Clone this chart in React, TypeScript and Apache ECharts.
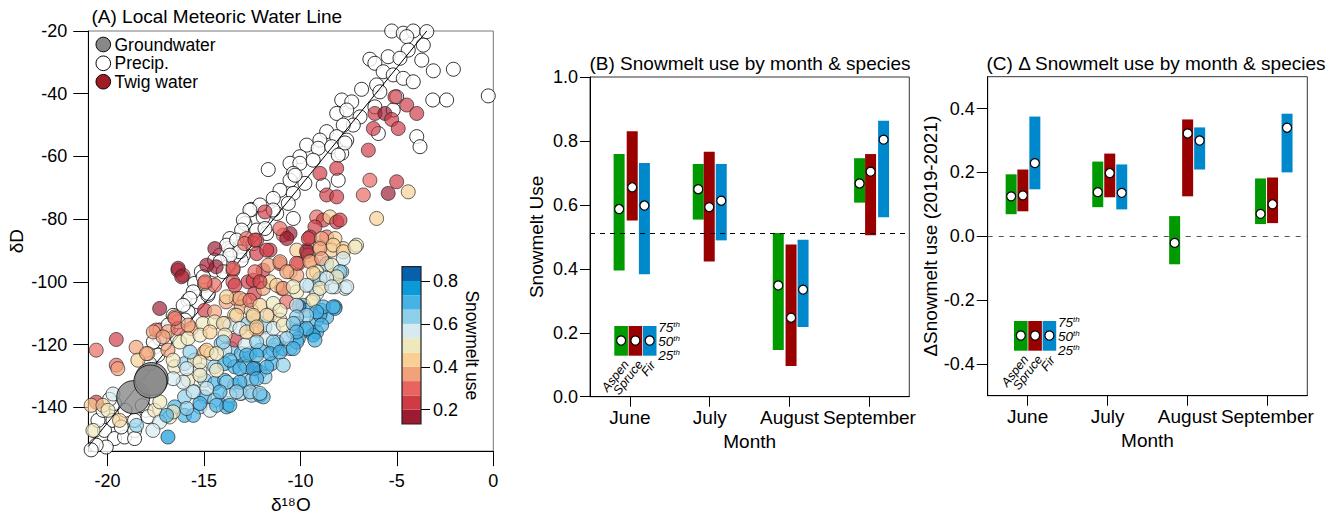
import React, { useEffect, useRef } from 'react';
import * as echarts from 'echarts';

const FONT = '"Liberation Sans", Arial, Helvetica, sans-serif';

// ---------------- Panel A data ----------------
const groundwater = [[-18.67, -136.8], [-17.72, -131.0], [-17.78, -131.8]];

const precip = [
  [-5.27, -20.0], [-4.67, -20.7], [-4.15, -20.0], [-3.45, -20.2], [-4.49, -21.8], [-3.63, -24.5], [-4.41, -26.1],
  [-5.45, -28.2], [-6.40, -29.0], [-6.14, -30.3], [-4.84, -28.7], [-3.71, -29.3], [-3.11, -32.7], [-2.07, -32.2],
  [-5.71, -33.0], [-5.19, -34.0], [-4.67, -35.1], [-4.15, -36.2], [-6.83, -38.6], [-6.05, -37.2], [-5.88, -39.4],
  [-5.01, -41.0], [-3.14, -42.0], [-2.42, -42.0], [-0.26, -40.7], [-7.86, -42.0], [-7.34, -42.6], [-8.12, -46.3],
  [-7.60, -45.2], [-6.91, -47.4], [-6.14, -44.2], [-5.19, -45.2], [-7.26, -50.0], [-7.78, -50.0], [-8.64, -52.1],
  [-8.99, -54.8], [-8.12, -53.7], [-7.60, -54.8], [-9.68, -56.4], [-9.08, -57.4], [-8.38, -56.9], [-7.86, -59.0],
  [-10.03, -60.1], [-10.54, -62.2], [-10.03, -62.2], [-9.34, -61.2], [-11.67, -64.2], [-10.37, -65.4], [-10.54, -67.6],
  [-9.77, -68.6], [-8.82, -69.2], [-8.04, -67.6], [-11.06, -70.8], [-11.41, -73.4], [-10.37, -71.8], [-10.63, -75.0],
  [-12.53, -76.9], [-11.93, -79.3], [-11.23, -78.2], [-10.37, -79.8], [-12.88, -81.4], [-12.27, -83.5], [-11.75, -84.6],
  [-13.66, -86.2], [-13.14, -88.8], [-12.45, -87.8], [-3.97, -53.7], [-3.80, -56.9], [-5.96, -52.7],
  [-7.69, -55.7], [-8.04, -59.6], [-10.28, -66.0], [-11.41, -77.1], [-12.10, -75.5], [-12.62, -77.1], [-12.96, -80.3],
  [-13.05, -83.5], [-11.84, -83.0], [-13.74, -89.4], [-13.31, -89.9], [-14.17, -91.5], [-12.96, -91.5],
  [-15.14, -96.8], [-14.45, -93.1], [-13.59, -89.9], [-15.49, -100.5], [-15.83, -105.9], [-15.32, -106.4],
  [-14.80, -104.3], [-16.35, -111.2], [-15.83, -109.6], [-16.70, -114.4], [-17.04, -117.0], [-13.76, -95.2],
  [-13.07, -93.1], [-14.95, -101.1], [-14.43, -96.3],
  [-17.56, -120.8], [-17.04, -119.7], [-17.39, -123.4], [-17.82, -126.1], [-15.99, -112.2], [-17.29, -115.4],
  [-20.67, -147.4], [-20.16, -147.4], [-20.50, -144.2], [-19.72, -144.2], [-20.24, -141.0], [-19.64, -150.0],
  [-19.12, -149.5], [-18.60, -147.4], [-19.29, -146.3], [-20.07, -152.7], [-20.59, -152.1], [-20.85, -153.6],
  [-18.60, -144.2], [-18.00, -141.0], [-19.64, -138.8], [-19.10, -141.0], [-18.60, -150.0], [-18.20, -139.5],
  [-17.90, -143.0], [-19.90, -137.5],
  [-15.04, -98.4], [-15.56, -103.2], [-15.73, -105.3], [-16.08, -107.5], [-16.60, -110.7], [-16.34, -112.8],
  [-16.86, -113.8], [-17.29, -118.1], [-17.63, -119.2], [-13.83, -88.3], [-13.31, -86.7], [-13.14, -90.4],
  [-13.66, -91.5], [-14.17, -93.6], [-14.00, -96.8], [-14.78, -103.7],
];

// [d18O, dD, snowmelt use]
const twig = [
  [-5.10, -41.0, 0.2], [-4.49, -43.6, 0.2], [-3.97, -46.3, 0.2], [-6.14, -46.3, 0.2], [-5.62, -46.3, 0.17],
  [-5.27, -48.2, 0.2], [-4.93, -51.1, 0.2], [-6.22, -51.1, 0.2], [-6.48, -58.0, 0.2], [-8.12, -63.8, 0.2],
  [-8.99, -65.4, 0.2], [-6.40, -67.6, 0.27], [-5.01, -68.1, 0.2], [-5.45, -71.8, 0.17], [-6.74, -72.3, 0.27],
  [-8.64, -72.3, 0.25], [-8.12, -72.9, 0.2], [-4.41, -71.3, 0.42], [-6.05, -79.8, 0.42], [-11.84, -77.7, 0.2],
  [-14.44, -89.4, 0.17],
  [-9.16, -79.3, 0.3], [-8.81, -80.3, 0.2], [-8.47, -79.3, 0.4], [-8.12, -80.9, 0.25], [-7.95, -80.3, 0.2],
  [-9.25, -82.5, 0.25], [-9.51, -85.7, 0.22], [-8.64, -85.7, 0.27], [-8.21, -86.2, 0.4], [-8.99, -88.9, 0.4],
  [-9.68, -89.9, 0.22], [-8.38, -89.9, 0.42], [-7.78, -89.4, 0.44], [-7.09, -88.3, 0.5], [-10.89, -85.1, 0.27],
  [-10.54, -84.6, 0.17], [-11.06, -83.0, 0.27], [-12.79, -86.2, 0.3], [-12.27, -86.7, 0.3], [-11.58, -89.9, 0.25],
  [-10.19, -89.9, 0.4], [-9.61, -91.5, 0.37],
  [-16.35, -96.3, 0.2], [-16.09, -97.9, 0.28], [-14.37, -95.2, 0.17], [-13.50, -96.3, 0.25], [-12.89, -87.8, 0.27],
  [-14.97, -100.5, 0.37], [-14.45, -101.1, 0.3], [-13.50, -100.0, 0.3], [-12.72, -100.0, 0.25], [-17.30, -108.5, 0.17],
  [-16.52, -111.2, 0.37], [-14.97, -109.1, 0.25], [-14.45, -109.6, 0.37], [-13.85, -106.4, 0.37], [-13.33, -105.3, 0.37],
  [-12.89, -105.9, 0.42], [-12.38, -103.7, 0.25], [-17.48, -115.4, 0.3], [-16.87, -115.9, 0.37], [-16.35, -114.9, 0.3],
  [-15.66, -114.9, 0.37], [-15.06, -113.3, 0.5], [-14.45, -112.8, 0.5], [-13.93, -113.3, 0.37], [-13.41, -110.6, 0.48],
  [-13.07, -108.0, 0.37], [-12.55, -109.1, 0.48], [-19.55, -118.4, 0.2], [-12.30, -112.2, 0.6], [-12.72, -113.3, 0.65],
  [-12.27, -91.0, 0.25], [-8.64, -94.2, 0.6], [-7.86, -96.8, 0.6], [-11.06, -94.2, 0.22], [-10.11, -94.2, 0.25],
  [-9.42, -93.6, 0.4], [-11.93, -96.3, 0.25], [-10.54, -96.8, 0.42], [-10.19, -97.9, 0.37], [-9.16, -96.8, 0.48],
  [-8.29, -97.9, 0.5], [-7.69, -102.1, 0.56], [-8.21, -101.6, 0.56], [-8.90, -101.6, 0.5], [-9.51, -101.1, 0.6],
  [-10.97, -102.1, 0.25], [-11.93, -102.1, 0.35], [-12.45, -99.5, 0.25], [-11.58, -100.0, 0.4], [-10.19, -103.2, 0.48],
  [-9.16, -103.7, 0.56], [-9.42, -106.4, 0.5], [-10.72, -106.4, 0.33], [-9.86, -107.5, 0.62], [-8.21, -108.0, 0.7],
  [-8.90, -109.1, 0.7], [-8.64, -111.3, 0.68], [-9.16, -112.2, 0.7], [-9.68, -109.1, 0.65], [-11.58, -110.6, 0.38],
  [-11.06, -112.2, 0.5], [-10.19, -113.3, 0.7], [-10.37, -116.0, 0.55], [-9.77, -115.4, 0.7], [-9.16, -116.0, 0.72],
  [-10.11, -118.1, 0.7], [-9.34, -117.0, 0.75], [-11.84, -114.4, 0.6], [-12.45, -111.2, 0.5], [-11.23, -119.2, 0.62],
  [-11.75, -118.1, 0.56], [-12.27, -115.4, 0.37],
  [-20.59, -121.8, 0.3], [-18.52, -120.9, 0.37], [-17.91, -122.9, 0.4], [-18.43, -125.0, 0.45], [-19.55, -126.6, 0.3],
  [-19.47, -127.7, 0.37], [-16.87, -121.8, 0.37], [-16.26, -119.2, 0.5], [-15.83, -118.1, 0.5], [-16.52, -127.1, 0.52],
  [-16.01, -126.1, 0.6], [-15.49, -125.0, 0.52], [-14.97, -122.4, 0.37], [-14.63, -122.9, 0.5], [-14.11, -119.7, 0.6],
  [-13.59, -121.3, 0.6], [-13.41, -118.6, 0.2], [-13.07, -122.9, 0.72], [-14.45, -127.1, 0.6], [-13.93, -126.1, 0.7],
  [-13.41, -127.1, 0.72], [-12.89, -126.1, 0.7], [-14.97, -131.4, 0.6], [-14.45, -132.4, 0.7], [-13.93, -131.4, 0.72],
  [-13.41, -133.0, 0.7], [-12.89, -131.4, 0.62], [-15.83, -131.4, 0.52], [-15.49, -135.1, 0.6], [-16.01, -136.7, 0.62],
  [-14.97, -136.7, 0.7], [-14.45, -137.8, 0.62], [-13.76, -138.8, 0.72], [-13.07, -135.6, 0.6], [-16.52, -139.9, 0.7],
  [-16.01, -142.6, 0.7], [-17.56, -141.0, 0.5], [-16.78, -143.1, 0.48], [-17.30, -144.7, 0.55], [-17.65, -147.4, 0.58],
  [-16.87, -149.5, 0.75], [-19.72, -135.8, 0.58], [-20.59, -138.4, 0.25], [-20.85, -139.4, 0.4], [-20.24, -139.4, 0.42],
  [-19.98, -141.0, 0.5], [-19.38, -144.2, 0.4], [-20.76, -147.4, 0.48],
  [-12.62, -122.9, 0.7], [-12.10, -121.8, 0.72], [-11.41, -121.8, 0.62], [-10.89, -121.3, 0.7], [-10.54, -121.3, 0.65],
  [-10.19, -119.2, 0.7], [-9.25, -118.6, 0.72], [-12.79, -127.1, 0.65], [-12.10, -128.8, 0.7], [-11.49, -126.1, 0.72],
  [-11.84, -130.3, 0.65], [-12.53, -131.4, 0.62], [-13.14, -135.6, 0.58], [-12.53, -136.2, 0.6], [-12.10, -136.2, 0.72],
  [-8.99, -99.0, 0.6], [-8.04, -97.3, 0.55], [-7.60, -101.6, 0.56], [-8.21, -108.5, 0.68], [-8.99, -110.6, 0.72],
  [-11.32, -120.2, 0.7], [-11.93, -136.7, 0.7], [-13.83, -139.9, 0.72], [-15.21, -139.9, 0.62], [-15.55, -142.6, 0.72],
  [-18.50, -145.8, 0.6],
  [-13.66, -113.8, 0.56], [-12.88, -120.2, 0.56], [-13.92, -121.8, 0.56], [-15.21, -128.2, 0.56], [-13.66, -136.2, 0.56],
  [-14.69, -141.0, 0.55], [-10.07, -107.8, 0.82], [-12.36, -127.6, 0.82],
  [-12.36, -86.7, 0.25], [-11.75, -89.9, 0.25], [-10.71, -86.2, 0.17], [-9.59, -86.2, 0.22], [-8.90, -86.2, 0.37],
  [-9.68, -90.4, 0.17], [-8.99, -89.4, 0.37], [-8.30, -88.3, 0.42], [-7.78, -90.4, 0.42], [-7.17, -88.9, 0.5],
  [-7.78, -92.6, 0.56], [-16.34, -95.7, 0.17], [-16.16, -98.4, 0.17], [-14.86, -94.7, 0.17], [-13.49, -95.7, 0.3],
  [-12.36, -96.8, 0.3], [-11.67, -94.7, 0.37], [-11.06, -93.6, 0.37], [-10.20, -94.1, 0.27], [-9.51, -93.6, 0.37],
  [-8.90, -92.6, 0.37], [-8.38, -94.7, 0.5], [-7.95, -96.8, 0.6], [-8.12, -98.4, 0.5], [-10.71, -96.8, 0.37],
  [-9.34, -97.3, 0.42], [-8.64, -98.9, 0.56], [-14.95, -100.0, 0.3], [-13.40, -101.1, 0.25], [-12.10, -100.0, 0.25],
  [-11.23, -101.1, 0.42], [-10.89, -102.1, 0.37], [-10.37, -101.6, 0.5], [-9.68, -101.1, 0.56], [-8.99, -102.1, 0.5],
  [-8.38, -101.6, 0.56], [-13.83, -104.8, 0.42], [-13.14, -105.3, 0.37], [-12.62, -105.9, 0.33], [-12.10, -107.5, 0.42],
  [-11.41, -106.9, 0.5], [-10.20, -107.5, 0.56], [-9.34, -105.9, 0.5], [-8.82, -108.0, 0.7], [-8.30, -108.0, 0.72],
  [-9.16, -109.6, 0.7], [-9.68, -110.7, 0.62], [-10.20, -111.2, 0.6], [-11.06, -109.1, 0.5], [-11.75, -110.7, 0.5],
  [-12.45, -110.7, 0.42], [-13.31, -110.7, 0.42], [-14.00, -113.3, 0.5], [-17.63, -116.0, 0.37], [-17.12, -117.6, 0.37],
  [-16.51, -111.7, 0.3], [-15.82, -113.8, 0.37], [-15.21, -117.0, 0.5], [-14.69, -116.0, 0.42], [-13.91, -117.0, 0.5],
  [-13.14, -114.9, 0.56], [-12.79, -116.0, 0.42], [-12.27, -114.4, 0.42], [-11.41, -114.9, 0.56], [-10.89, -113.8, 0.5],
  [-10.37, -113.3, 0.62], [-9.68, -114.9, 0.7], [-8.90, -113.8, 0.72], [-10.20, -116.0, 0.7], [-10.71, -118.1, 0.62],
  [-11.41, -119.2, 0.6], [-12.27, -119.2, 0.62], [-14.00, -119.2, 0.62], [-17.98, -122.9, 0.37], [-16.60, -125.0, 0.5],
  [-15.73, -122.4, 0.6], [-14.86, -121.8, 0.42], [-14.35, -122.9, 0.5], [-15.21, -125.6, 0.5], [-13.66, -125.0, 0.7],
  [-12.79, -123.4, 0.72], [-12.27, -123.4, 0.7], [-11.58, -122.9, 0.7], [-11.06, -122.4, 0.72], [-10.37, -121.3, 0.72],
  [-13.14, -127.7, 0.7], [-12.45, -127.7, 0.72], [-11.75, -127.2, 0.7], [-10.89, -126.6, 0.62], [-14.35, -128.2, 0.5],
  [-15.21, -129.8, 0.5], [-15.90, -127.7, 0.58], [-13.83, -132.0, 0.62], [-13.14, -132.0, 0.72], [-12.27, -130.9, 0.7],
  [-12.62, -135.1, 0.62], [-12.10, -135.6, 0.62], [-13.31, -135.1, 0.6], [-14.17, -135.1, 0.7], [-14.86, -134.0, 0.58],
  [-15.56, -135.1, 0.55], [-16.08, -132.0, 0.58], [-16.60, -130.9, 0.58], [-14.35, -139.4, 0.72], [-13.66, -139.4, 0.72],
  [-15.21, -138.8, 0.7], [-15.90, -140.4, 0.6], [-16.60, -141.5, 0.52], [-17.29, -138.3, 0.52], [-16.94, -142.6, 0.7],
];

const lmwl = [[-21.0, -152.5], [-3.45, -20.0]];

const xTicksA = [-20, -15, -10, -5, 0];
const yTicksA = [-140, -120, -100, -80, -60, -40, -20];

// colour scale (edges in snowmelt-use units)
const bandEdges = [2, 3, 4, 5, 6, 7, 8, 9, 10, 11, 12, 13].map((k) => k / 15);
const bandColors = ['#9b1b30', '#cf3a45', '#e8655f', '#f2a27b', '#f8cf94', '#f0e8bd', '#d6eaf0', '#8ecfea', '#45b3e6', '#0a9ad8', '#0660ab'];
const colorbarTicks = [0.2, 0.4, 0.6, 0.8];

// ---------------- Panels B & C data ----------------
const months = ['June', 'July', 'August', 'September'];
const speciesNames = ['Aspen', 'Spruce', 'Fir'];
const speciesColors = ['#009900', '#990000', '#0088cc'];

// [25th, 50th, 75th] per month
const useAspen = [[0.395, 0.587, 0.759], [0.554, 0.649, 0.728], [0.146, 0.348, 0.512], [0.607, 0.667, 0.746]];
const useSpruce = [[0.551, 0.655, 0.830], [0.423, 0.593, 0.766], [0.096, 0.247, 0.476], [0.505, 0.704, 0.759]];
const useFir = [[0.383, 0.598, 0.731], [0.489, 0.613, 0.728], [0.218, 0.335, 0.491], [0.561, 0.804, 0.863]];
const useRefLine = 0.508;

const dAspen = [[0.069, 0.125, 0.194], [0.091, 0.138, 0.234], [-0.088, -0.021, 0.063], [0.038, 0.070, 0.181]];
const dSpruce = [[0.078, 0.128, 0.209], [0.122, 0.198, 0.259], [0.125, 0.322, 0.366], [0.041, 0.100, 0.184]];
const dFir = [[0.147, 0.229, 0.375], [0.084, 0.136, 0.225], [0.209, 0.300, 0.341], [0.200, 0.340, 0.384]];
const cTicks = [-0.4, -0.2, 0, 0.2, 0.4];

// pixel offsets of each species' bar from the month tick (styling)
const offsetsB = [[-10.8, 2.3, 14.5], [-11.5, -0.5, 11.5], [-11.3, 1.5, 13.5], [-9.8, 1.2, 14.2]];
const offsetsC = [[-16.5, -4.8, 7.2], [-9.8, 2.2, 14.2], [-12.8, 0.2, 12.2], [-6.8, 5.2, 19.7]];
const BAR_W = 11;

function boxRender(offsets: number[][], sp: number, color: string) {
  return (params: any, api: any) => {
    const m = api.value(0);
    const lo = api.coord([m, api.value(1)]);
    const md = api.coord([m, api.value(2)]);
    const hi = api.coord([m, api.value(3)]);
    const x = md[0] + offsets[m][sp];
    return {
      type: 'group',
      children: [
        { type: 'rect', shape: { x: x - BAR_W / 2, y: hi[1], width: BAR_W, height: lo[1] - hi[1] }, style: { fill: color } },
        { type: 'circle', z2: 5, shape: { cx: x, cy: md[1], r: 4.5 }, style: { fill: '#fff', stroke: '#000', lineWidth: 1.2 } },
      ],
    };
  };
}

function legendGlyph(x0: number, y0: number) {
  const els: any[] = [];
  speciesColors.forEach((c, i) => {
    els.push({ type: 'rect', shape: { x: x0 + i * 14.3, y: y0, width: 13.6, height: 29.7 }, style: { fill: c } });
    els.push({ type: 'circle', z: 10, shape: { cx: x0 + i * 14.3 + 6.8, cy: y0 + 14.5, r: 4.5 }, style: { fill: '#fff', stroke: '#000', lineWidth: 1.2 } });
  });
  const pct = ['75', '50', '25'];
  pct.forEach((p, k) => {
    els.push({
      type: 'text', x: x0 + 44, y: y0 + 1 + k * 14.2,
      style: {
        text: `{a|${p}}{b|th}`, verticalAlign: 'middle', align: 'left',
        rich: {
          a: { fontSize: 13.5, fontStyle: 'italic', fontFamily: FONT, fill: '#000' },
          b: { fontSize: 8, fontStyle: 'italic', fontFamily: FONT, fill: '#000', verticalAlign: 'top', padding: [0, 0, 5, 0] },
        },
      },
    });
  });
  const ends = [[12, 36], [26, 36], [38.5, 37]];
  speciesNames.forEach((n, i) => {
    els.push({
      type: 'text', x: x0 + ends[i][0], y: y0 + ends[i][1], rotation: (52 * Math.PI) / 180,
      style: { text: n, align: 'right', verticalAlign: 'middle', fontSize: 12.5, fontStyle: 'italic', fontFamily: FONT, fill: '#000' },
    });
  });
  return els;
}

export default function App() {
  const ref = useRef<HTMLDivElement>(null);
  useEffect(() => {
    if (!ref.current) return;
    const chart = echarts.init(ref.current, undefined, { renderer: 'svg' });

    const txt = { fontFamily: FONT, color: '#000' };
    const blackLine = { lineStyle: { color: '#000', width: 1 } };

    const catAxis = (gi: number) => ({
      gridIndex: gi, type: 'category', data: months, boundaryGap: true,
      axisLine: { show: true, onZero: false, ...blackLine },
      axisTick: { show: true, alignWithLabel: true, length: 10, inside: false, interval: 0, ...blackLine },
      axisLabel: { ...txt, fontSize: 19, margin: 11, interval: 0 },
      name: 'Month', nameLocation: 'middle', nameGap: 34, nameTextStyle: { ...txt, fontSize: 19 },
      splitLine: { show: false },
    });

    const mkBox = (arr: number[][], sp: number, offsets: number[][], xi: number, yi: number, markLine?: any) => ({
      type: 'custom', xAxisIndex: xi, yAxisIndex: yi, clip: false,
      renderItem: boxRender(offsets, sp, speciesColors[sp]),
      encode: { x: 0, y: [1, 2, 3] },
      data: arr.map((q, m) => [m, q[0], q[1], q[2]]),
      ...(markLine ? { markLine } : {}),
      z: 3,
    });

    const option: any = {
      animation: false,
      textStyle: { fontFamily: FONT },
      grid: [
        { left: 88.3, top: 31, width: 405, height: 421, show: true, borderColor: '#777', borderWidth: 1, backgroundColor: 'transparent' },
        { left: 590, top: 77, width: 319.3, height: 319.7, show: true, borderColor: '#333', borderWidth: 1 },
        { left: 987.7, top: 76.7, width: 319.6, height: 319, show: true, borderColor: '#333', borderWidth: 1 },
        { left: 402, top: 266.7, width: 19, height: 157.3 },
      ],
      xAxis: [
        {
          gridIndex: 0, type: 'value', min: -21, max: 0,
          axisLine: { show: true, onZero: false, ...blackLine },
          axisTick: { show: true, customValues: xTicksA, length: 15, ...blackLine },
          axisLabel: { ...txt, fontSize: 18, customValues: xTicksA, margin: 21 },
          splitLine: { show: false },
          name: 'δ¹⁸O', nameLocation: 'middle', nameGap: 43, nameTextStyle: { ...txt, fontSize: 19 },
        },
        catAxis(1),
        catAxis(2),
        { gridIndex: 3, type: 'category', data: [''], show: false },
      ],
      yAxis: [
        {
          gridIndex: 0, type: 'value', min: -154, max: -20,
          axisLine: { show: true, onZero: false, ...blackLine },
          axisTick: { show: true, customValues: yTicksA, length: 15, ...blackLine },
          axisLabel: { ...txt, fontSize: 18, customValues: yTicksA, margin: 21 },
          splitLine: { show: false },
          name: 'δD', nameLocation: 'middle', nameGap: 62, nameTextStyle: { ...txt, fontSize: 19 },
        },
        {
          gridIndex: 1, type: 'value', min: 0, max: 1, interval: 0.2,
          axisLine: { show: true, ...blackLine },
          axisTick: { show: true, length: 10, ...blackLine },
          axisLabel: { ...txt, fontSize: 18, margin: 12, formatter: (v: number) => v.toFixed(1) },
          splitLine: { show: false },
          name: 'Snowmelt Use', nameLocation: 'middle', nameGap: 44, nameTextStyle: { ...txt, fontSize: 19 },
        },
        {
          gridIndex: 2, type: 'value', min: -0.5, max: 0.5,
          axisLine: { show: true, ...blackLine },
          axisTick: { show: true, length: 11, customValues: cTicks, ...blackLine },
          axisLabel: { ...txt, fontSize: 18, margin: 13, customValues: cTicks, formatter: (v: number) => v.toFixed(1) },
          splitLine: { show: false },
          name: 'ΔSnowmelt use (2019-2021)', nameLocation: 'middle', nameGap: 33, nameTextStyle: { ...txt, fontSize: 19 },
        },
        {
          gridIndex: 3, type: 'value', position: 'right', min: bandEdges[0], max: bandEdges[bandEdges.length - 1],
          axisLine: { show: false },
          axisTick: { show: true, length: 9, customValues: colorbarTicks, ...blackLine },
          axisLabel: { ...txt, fontSize: 18, margin: 12, customValues: colorbarTicks, formatter: (v: number) => v.toFixed(1) },
          splitLine: { show: false },
          name: 'Snowmelt use', nameLocation: 'middle', nameRotate: -90, nameGap: 42, nameTextStyle: { ...txt, fontSize: 17.5 },
        },
      ],
      visualMap: {
        type: 'piecewise', show: false, seriesIndex: 2, dimension: 2,
        pieces: bandColors.map((c, i) => ({ gte: bandEdges[i], lt: bandEdges[i + 1], color: c })),
      },
      series: [
        {
          type: 'scatter', name: 'Precip.', xAxisIndex: 0, yAxisIndex: 0, data: precip, symbolSize: 14, clip: false,
          itemStyle: { color: '#fff', borderColor: '#000', borderWidth: 1 }, z: 2,
        },
        {
          type: 'line', xAxisIndex: 0, yAxisIndex: 0, data: lmwl, showSymbol: false, symbol: 'none',
          lineStyle: { color: '#000', width: 1 }, z: 3,
        },
        {
          type: 'scatter', name: 'Twig water', xAxisIndex: 0, yAxisIndex: 0, data: twig, symbolSize: 14, clip: false,
          encode: { x: 0, y: 1 },
          itemStyle: { opacity: 0.68, borderColor: '#222', borderWidth: 1 }, z: 4,
        },
        {
          type: 'scatter', name: 'Groundwater', xAxisIndex: 0, yAxisIndex: 0, data: groundwater, symbolSize: 33,
          itemStyle: { color: '#888', borderColor: '#000', borderWidth: 1 }, z: 5,
        },
        {
          type: 'custom', xAxisIndex: 3, yAxisIndex: 3,
          data: bandColors.map((c, i) => [0, bandEdges[i], bandEdges[i + 1], i]),
          encode: { x: 0, y: [1, 2] },
          renderItem: (params: any, api: any) => {
            const a = api.coord([0, api.value(1)]);
            const b = api.coord([0, api.value(2)]);
            const w = api.size([1, 0])[0];
            const children: any[] = [
              { type: 'rect', shape: { x: a[0] - w / 2, y: b[1], width: w, height: a[1] - b[1] }, style: { fill: bandColors[api.value(3)] } },
            ];
            if (params.dataIndex === 0) {
              const top = api.coord([0, bandEdges[bandEdges.length - 1]]);
              children.push({
                type: 'rect', z2: 100,
                shape: { x: a[0] - w / 2, y: top[1], width: w, height: a[1] - top[1] },
                style: { fill: 'none', stroke: '#222', lineWidth: 1.2 },
              });
            }
            return { type: 'group', children };
          },
        },
        mkBox(useAspen, 0, offsetsB, 1, 1, {
          silent: true, symbol: 'none', label: { show: false },
          data: [
            { yAxis: useRefLine, lineStyle: { color: '#000', type: [5, 5], width: 1 } },
            { yAxis: 0, lineStyle: { color: '#000', type: [5, 5], width: 1 } },
          ],
        }),
        mkBox(useSpruce, 1, offsetsB, 1, 1),
        mkBox(useFir, 2, offsetsB, 1, 1),
        mkBox(dAspen, 0, offsetsC, 2, 2, {
          silent: true, symbol: 'none', label: { show: false },
          data: [{ yAxis: 0, lineStyle: { color: '#555', type: [5, 6], width: 1 } }],
        }),
        mkBox(dSpruce, 1, offsetsC, 2, 2),
        mkBox(dFir, 2, offsetsC, 2, 2),
      ],
      graphic: [
        { type: 'text', x: 91.5, y: 16, style: { text: '(A) Local Meteoric Water Line', fontSize: 19, fontFamily: FONT, fill: '#000', verticalAlign: 'middle' } },
        { type: 'text', x: 589.5, y: 63.5, style: { text: '(B) Snowmelt use by month & species', fontSize: 19, fontFamily: FONT, fill: '#000', verticalAlign: 'middle' } },
        { type: 'text', x: 986.5, y: 63, style: { text: '(C) Δ Snowmelt use by month & species', fontSize: 19, fontFamily: FONT, fill: '#000', verticalAlign: 'middle' } },
        { type: 'circle', shape: { cx: 103.3, cy: 44.5, r: 7.3 }, style: { fill: '#888', stroke: '#000', lineWidth: 1 } },
        { type: 'circle', shape: { cx: 103.3, cy: 63.3, r: 7.3 }, style: { fill: '#fff', stroke: '#000', lineWidth: 1 } },
        { type: 'circle', shape: { cx: 103.3, cy: 81.7, r: 7.3 }, style: { fill: '#a01c22', stroke: '#000', lineWidth: 1 } },
        { type: 'text', x: 114.5, y: 44.5, style: { text: 'Groundwater', fontSize: 17.5, fontFamily: FONT, fill: '#000', verticalAlign: 'middle' } },
        { type: 'text', x: 114.5, y: 63.3, style: { text: 'Precip.', fontSize: 17.5, fontFamily: FONT, fill: '#000', verticalAlign: 'middle' } },
        { type: 'text', x: 114.5, y: 81.7, style: { text: 'Twig water', fontSize: 17.5, fontFamily: FONT, fill: '#000', verticalAlign: 'middle' } },
        ...legendGlyph(614.3, 326),
        ...legendGlyph(1014, 321),
      ],
    };

    chart.setOption(option);
    return () => chart.dispose();
  }, []);

  return <div ref={ref} style={{ position: 'fixed', left: 0, top: 0, width: 1343, height: 519, background: '#fff' }} />;
}
